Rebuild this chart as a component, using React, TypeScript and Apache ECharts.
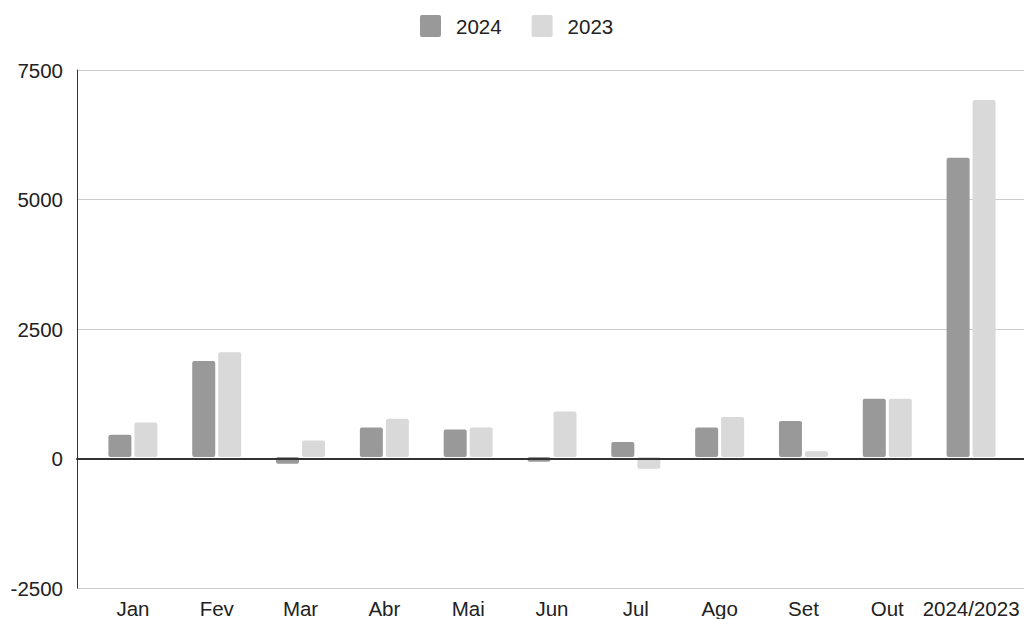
import React, { useEffect, useRef } from "react";
import * as echarts from "echarts";

const categories = ["Jan", "Fev", "Mar", "Abr", "Mai", "Jun", "Jul", "Ago", "Set", "Out", "2024/2023"];
const values2024 = [430, 1860, -130, 570, 535, -90, 290, 570, 700, 1130, 5800];
const values2023 = [670, 2030, 320, 740, 570, 880, -230, 775, 110, 1130, 6920];
const yTicks = { min: -2500, max: 7500, interval: 2500 };

const FONT = "'Liberation Sans', Arial, sans-serif";
const FS = 20.5;
const LEGEND_ICON = "path://M2,0 H19 Q21,0 21,2 V20 Q21,22 19,22 H2 Q0,22 0,20 V2 Q0,0 2,0 Z";

export default function App() {
  const ref = useRef<HTMLDivElement>(null);
  useEffect(() => {
    if (!ref.current) return;
    const chart = echarts.init(ref.current, null, { renderer: "svg" });
    chart.setOption({
      animation: false,
      textStyle: { fontFamily: FONT },
      legend: {
        top: 10,
        left: 415,
        icon: LEGEND_ICON,
        itemWidth: 21,
        itemHeight: 22,
        itemGap: 30,
        data: ["2024", "2023"],
        textStyle: { fontSize: FS, color: "#222", fontFamily: FONT, padding: [0, 0, 0, 10] },
      },
      grid: [
        { left: 91, right: 11, top: 70, bottom: 31, containLabel: false },
        { left: 77, right: 0, top: 70, bottom: 31, containLabel: false },
      ],
      xAxis: [
        {
          type: "category",
          gridIndex: 0,
          data: categories,
          axisLine: { show: false, onZero: false },
          axisTick: { show: false },
          splitLine: { show: false },
          axisLabel: { fontSize: FS, color: "#222", margin: 12, fontFamily: FONT, interval: 0 },
        },
        {
          type: "value",
          gridIndex: 1,
          min: 0,
          max: 1,
          axisLabel: { show: false },
          axisTick: { show: false },
          splitLine: { show: false },
          axisLine: { show: true, onZero: true, lineStyle: { color: "#333", width: 2 } },
          z: 5,
        },
      ],
      yAxis: [
        {
          type: "value",
          gridIndex: 0,
          min: yTicks.min,
          max: yTicks.max,
          interval: yTicks.interval,
          show: false,
          splitLine: { show: false },
        },
        {
          type: "value",
          gridIndex: 1,
          min: yTicks.min,
          max: yTicks.max,
          interval: yTicks.interval,
          axisLine: { show: true, onZero: false, lineStyle: { color: "#333", width: 1 } },
          axisTick: { show: false },
          axisLabel: {
            fontSize: FS,
            color: "#222",
            margin: 14,
            fontFamily: FONT,
            formatter: (v: number) => String(v),
          },
          splitLine: { show: true, lineStyle: { color: "#ccc", width: 1 } },
        },
      ],
      series: [
        {
          name: "2024",
          type: "bar",
          xAxisIndex: 0,
          yAxisIndex: 0,
          data: values2024,
          barWidth: 23,
          barGap: "13%",
          itemStyle: { color: "#999999", borderRadius: 2 },
          z: 3,
        },
        {
          name: "2023",
          type: "bar",
          xAxisIndex: 0,
          yAxisIndex: 0,
          data: values2023,
          barWidth: 23,
          barGap: "13%",
          itemStyle: { color: "#d9d9d9", borderRadius: 2 },
          z: 3,
        },
      ],
    });
    return () => chart.dispose();
  }, []);
  return (
    <div
      ref={ref}
      style={{ position: "fixed", left: 0, top: 0, width: 1024, height: 619, background: "#fff" }}
    />
  );
}
